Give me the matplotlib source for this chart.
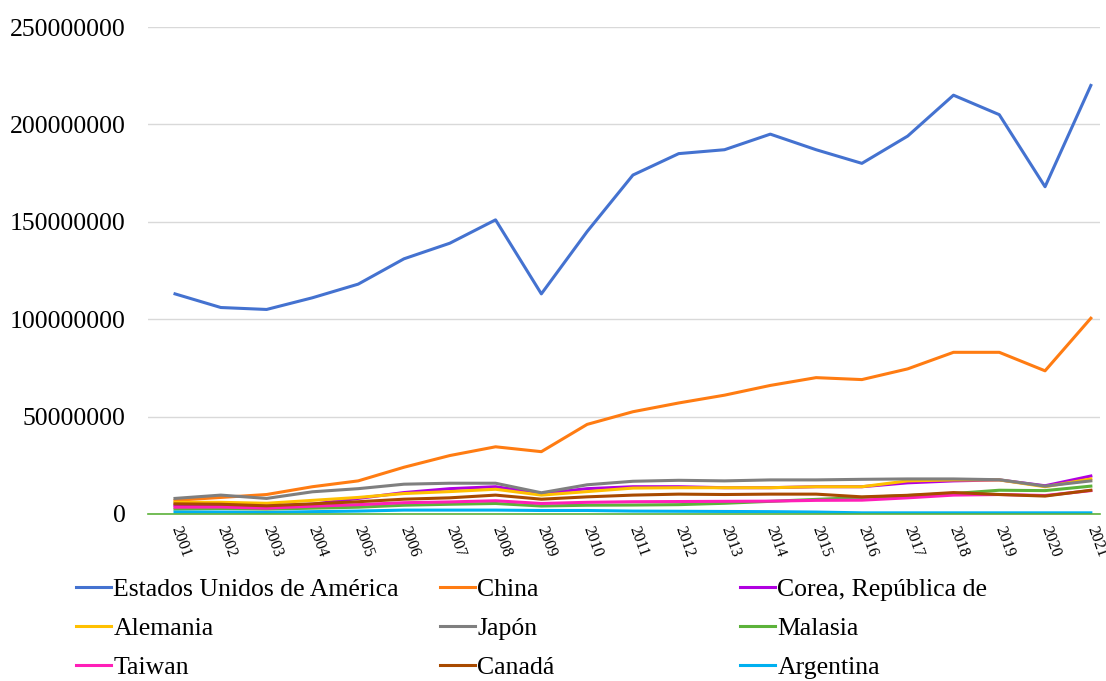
import numpy as np
import matplotlib.pyplot as plt

plt.rcParams['font.family'] = ['Liberation Serif', 'DejaVu Serif']

years = list(range(2001, 2022))

# valores (millones de dólares)
eeuu = [113, 106, 105, 111, 118, 131, 139, 151, 113, 145, 174, 185, 187, 195, 187, 180, 194, 215, 205, 168, 220]
china = [7, 8.5, 10, 14, 17, 24, 30, 34.5, 32, 46, 52.5, 57, 61, 66, 70, 69, 74.5, 83, 83, 73.5, 100.5]
corea = [4.5, 4.5, 4, 5, 8, 11, 13, 14, 10.5, 13, 14, 14, 13.5, 13.5, 14, 14, 16, 17, 17.5, 14.5, 19.5]
alemania = [6, 6, 5.5, 7, 8.5, 10.5, 11.5, 12.7, 9.7, 11.5, 13.3, 13.5, 13.5, 13.5, 14, 14, 17, 17.5, 17.5, 14, 18]
japon = [8, 9.7, 8, 11.4, 13, 15.3, 15.8, 15.8, 10.9, 15, 16.8, 17.3, 17, 17.5, 17.5, 17.8, 18, 18, 17.6, 14.3, 17]
malasia = [2.5, 2.8, 2.5, 3, 3.5, 4.5, 5, 5.4, 4.1, 4.5, 4.6, 4.8, 5.5, 6.5, 7.5, 8.5, 9.5, 10.5, 12.2, 12, 14.3]
taiwan = [3.5, 3.6, 3, 4, 4.8, 5.8, 6.2, 6.8, 5.4, 6, 6.3, 6.4, 6.5, 6.6, 7, 7.1, 8.3, 9.7, 10, 9.5, 12]
canada = [5.2, 5, 4.2, 5.2, 6.3, 7.6, 8.3, 9.7, 7.6, 8.8, 9.7, 10.2, 10, 10.2, 10.2, 8.8, 9.6, 11, 10, 9.2, 12.2]
argentina = [1, 1, 0.8, 1.2, 1.5, 2, 2, 2, 1.8, 1.8, 1.5, 1.4, 1.3, 1.2, 1, 0.6, 0.6, 0.6, 0.6, 0.6, 0.6]

series = [
    ("Estados Unidos de América", eeuu, "#4472D0"),
    ("China", china, "#FF7C12"),
    ("Corea, República de", corea, "#B000E0"),
    ("Alemania", alemania, "#FFC000"),
    ("Japón", japon, "#7F7F7F"),
    ("Malasia", malasia, "#5CB23A"),
    ("Taiwan", taiwan, "#FF1FB8"),
    ("Canadá", canada, "#A84A00"),
    ("Argentina", argentina, "#00B0F0"),
]

fig = plt.figure(figsize=(11.06, 6.81), dpi=100)
ax = fig.add_axes([148 / 1106, 1 - 514 / 681, (1100 - 148) / 1106, (514 - 27) / 681])

lineas = {}
for nombre, vals, color in series:
    l, = ax.plot(years, np.array(vals) * 1e6, color=color, lw=2.2, label=nombre)
    lineas[nombre] = l

ax.set_xlim(2000.41, 2021.2)
ax.set_ylim(0, 250000000)
ax.set_yticks(np.arange(0, 250000001, 50000000))
ax.set_yticklabels([str(v) for v in range(0, 250000001, 50000000)])
ax.set_xticks(years)
ax.set_xticklabels([str(y) for y in years], rotation=-70, ha='left', va='center',
                   rotation_mode='anchor', fontsize=11.5)
ax.tick_params(axis='y', length=0, pad=16, labelsize=18.5)
ax.tick_params(axis='x', length=0, pad=9)
ax.grid(axis='y', color='#D9D9D9', lw=1)
ax.set_axisbelow(True)
for s in ['left', 'right', 'top']:
    ax.spines[s].set_visible(False)
ax.spines['bottom'].set_color('#5CB23A')
ax.spines['bottom'].set_linewidth(1.2)

columnas = [
    (76, ["Estados Unidos de América", "Alemania", "Taiwan"]),
    (440, ["China", "Japón", "Canadá"]),
    (740, ["Corea, República de", "Malasia", "Argentina"]),
]
for x0, nombres in columnas:
    fig.legend([lineas[n] for n in nombres], nombres, loc='upper left',
               bbox_to_anchor=(x0 / 1106, 1 - 578 / 681), frameon=False,
               fontsize=18.5, handlelength=1.35, handletextpad=0.1,
               labelspacing=0.62, borderpad=0, borderaxespad=0)

fig.savefig("out.png", dpi=100)
